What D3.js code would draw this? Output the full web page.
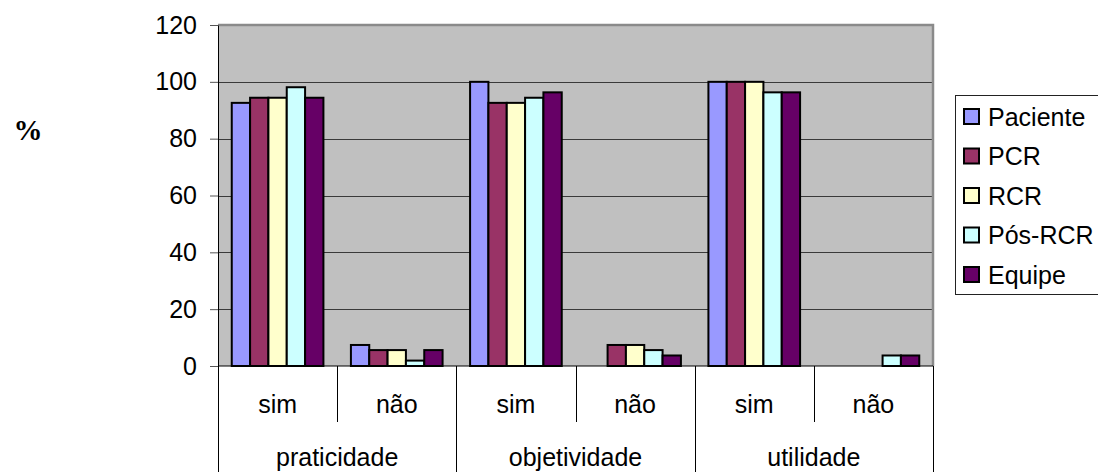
<!DOCTYPE html>
<html>
<head>
<meta charset="utf-8">
<script src="https://cdn.jsdelivr.net/npm/d3@7"></script>
<style>
  html, body { margin: 0; padding: 0; background: #fff; }
  svg { display: block; }
  text { font-family: Arial, "Liberation Sans", sans-serif; fill: #000; }
</style>
</head>
<body>
<svg id="chart" width="1098" height="472"></svg>
<script>
// Evaluation of the material: answers "sim"/"não" per criterion, in percent
const groups = ["praticidade", "objetividade", "utilidade"];
const answers = ["sim", "não"];
const seriesNames = ["Paciente", "PCR", "RCR", "Pós-RCR", "Equipe"];
const seriesColors = ["#9999FF", "#993366", "#FFFFCC", "#CCFFFF", "#660066"];

// one value per (criterion, answer) pair, in the order of groups × answers
const paciente = [92.6, 7.4, 100, 0, 100, 0];
const pcr      = [94.4, 5.6, 92.6, 7.4, 100, 0];
const rcr      = [94.4, 5.6, 92.6, 7.4, 100, 0];
const posRcr   = [98.1, 1.9, 94.4, 5.6, 96.3, 3.7];
const equipe   = [94.4, 5.6, 96.3, 3.7, 96.3, 3.7];

const yTicks = [0, 20, 40, 60, 80, 100, 120];

const seriesValues = [paciente, pcr, rcr, posRcr, equipe];
const slots = [];
groups.forEach(g => answers.forEach(a => slots.push({ group: g, answer: a, key: g + "|" + a })));

const svg = d3.select("#chart");
const plot = { left: 218, right: 933, top: 25, bottom: 366 };

const x0 = d3.scaleBand()
  .domain(slots.map(s => s.key))
  .range([plot.left, plot.right])
  .paddingInner(0).paddingOuter(0);

const x1 = d3.scaleBand()
  .domain(seriesNames)
  .range([0, x0.bandwidth()])
  .paddingInner(0).paddingOuter(0.75);

const y = d3.scaleLinear().domain([0, 120]).range([plot.bottom, plot.top]);

// plot background
svg.append("rect")
  .attr("x", plot.left).attr("y", plot.top)
  .attr("width", plot.right - plot.left).attr("height", plot.bottom - plot.top)
  .attr("fill", "#C0C0C0");

// gridlines
svg.append("g").selectAll("line")
  .data(yTicks.filter(t => t > 0 && t < 120))
  .join("line")
  .attr("x1", plot.left).attr("x2", plot.right)
  .attr("y1", d => Math.round(y(d)) + 0.5).attr("y2", d => Math.round(y(d)) + 0.5)
  .attr("stroke", "#3a3a3a").attr("stroke-width", 1);

// top and right frame of the plot area
svg.append("path")
  .attr("d", `M${plot.left},${plot.top} H${plot.right} V${plot.bottom}`)
  .attr("fill", "none").attr("stroke", "#8a8a8a").attr("stroke-width", 2.5);

// bars
const barData = [];
seriesNames.forEach((name, si) => {
  seriesValues[si].forEach((v, ci) => {
    if (v > 0) barData.push({ name, color: seriesColors[si], slot: slots[ci].key, value: v });
  });
});

svg.append("g").selectAll("rect")
  .data(barData)
  .join("rect")
  .attr("x", d => x0(d.slot) + x1(d.name))
  .attr("y", d => y(d.value))
  .attr("width", x1.bandwidth())
  .attr("height", d => y(0) - y(d.value))
  .attr("fill", d => d.color)
  .attr("stroke", "#000")
  .attr("stroke-width", 2);

// y axis
const yAxis = svg.append("g")
  .attr("transform", `translate(${plot.left},0)`)
  .call(d3.axisLeft(y).tickValues(yTicks).tickSize(8).tickPadding(13).tickSizeOuter(0));
yAxis.select(".domain").attr("stroke", "#000");
yAxis.selectAll(".tick line").attr("stroke", "#555");
yAxis.selectAll("text")
  .style("font-family", "Arial, 'Liberation Sans', sans-serif")
  .style("font-size", "25px")
  .attr("fill", "#000");

// category axis: baseline and table-style dividers
svg.append("line")
  .attr("x1", plot.left).attr("x2", plot.right)
  .attr("y1", plot.bottom).attr("y2", plot.bottom)
  .attr("stroke", "#000").attr("stroke-width", 1);

const dividers = slots.map((s, i) => ({ x: x0(s.key), full: i % answers.length === 0 }));
dividers.push({ x: plot.right, full: true });
svg.append("g").selectAll("line")
  .data(dividers)
  .join("line")
  .attr("x1", d => Math.round(d.x) + 0.5).attr("x2", d => Math.round(d.x) + 0.5)
  .attr("y1", plot.bottom)
  .attr("y2", d => d.full ? 472 : 422)
  .attr("stroke", "#000").attr("stroke-width", 1);

svg.append("g").selectAll("text")
  .data(slots)
  .join("text")
  .attr("x", d => x0(d.key) + x0.bandwidth() / 2)
  .attr("y", 404)
  .attr("dy", "0.35em")
  .attr("text-anchor", "middle")
  .style("font-size", "25px")
  .text(d => d.answer);

svg.append("g").selectAll("text")
  .data(groups)
  .join("text")
  .attr("x", g => x0(g + "|" + answers[0]) + x0.bandwidth() * answers.length / 2)
  .attr("y", 457)
  .attr("dy", "0.35em")
  .attr("text-anchor", "middle")
  .style("font-size", "25px")
  .text(g => g);

// y axis title
svg.append("text")
  .attr("x", 28).attr("y", 130)
  .attr("dy", "0.35em")
  .attr("text-anchor", "middle")
  .style("font-family", "'Times New Roman', 'Liberation Serif', serif")
  .style("font-weight", "bold")
  .style("font-size", "29px")
  .text("%");

// legend
const legend = svg.append("g");
legend.append("rect")
  .attr("x", 955.5).attr("y", 95.5)
  .attr("width", 160).attr("height", 199)
  .attr("fill", "#fff").attr("stroke", "#222").attr("stroke-width", 1);

const entries = legend.selectAll("g")
  .data(seriesNames)
  .join("g")
  .attr("transform", (d, i) => `translate(0,${117 + i * 39.5})`);
entries.append("rect")
  .attr("x", 964).attr("y", -8)
  .attr("width", 15).attr("height", 15)
  .attr("fill", (d, i) => seriesColors[i])
  .attr("stroke", "#000").attr("stroke-width", 2);
entries.append("text")
  .attr("x", 988).attr("y", 0)
  .attr("dy", "0.35em")
  .style("font-size", "25px")
  .text(d => d);
</script>
</body>
</html>
